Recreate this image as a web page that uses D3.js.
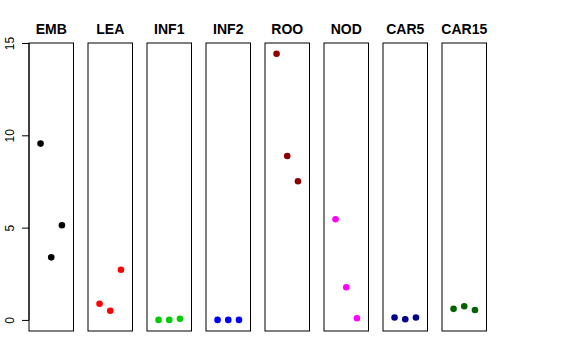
<!DOCTYPE html>
<html>
<head>
<meta charset="utf-8">
<script src="https://cdn.jsdelivr.net/npm/d3@7"></script>
<style>
  body { margin: 0; background: #fff; }
  text { font-family: "Liberation Sans", Arial, sans-serif; }
</style>
</head>
<body>
<div id="chart"></div>
<script>
// tissues, one panel each
var tissues = ["EMB", "LEA", "INF1", "INF2", "ROO", "NOD", "CAR5", "CAR15"];
var colors = ["#000000", "#FF0000", "#00CD00", "#0000FF", "#8B0000", "#FF00FF", "#00008B", "#006400"];
// three replicates per tissue
var rep1 = [9.55, 0.88, 0.00, 0.00, 14.42, 5.45, 0.13, 0.60];
var rep2 = [3.39, 0.50, 0.00, 0.00, 8.88, 1.77, 0.04, 0.74];
var rep3 = [5.13, 2.72, 0.06, 0.00, 7.51, 0.09, 0.13, 0.54];
var yTicks = [0, 5, 10, 15];

var width = 576, height = 360;
var panelLeft = 29, panelW = 44.5, panelStep = 59,
    panelTop = 43, panelBottom = 331;

var svg = d3.select("#chart")
  .append("svg")
    .attr("width", width)
    .attr("height", height);

// y scale shared by all panels
var y = d3.scaleLinear()
  .domain([-0.6, 15])
  .range([panelBottom, panelTop]);

// y axis on the first panel only
var yAxis = svg.append("g")
  .attr("transform", "translate(" + panelLeft + ",0)")
  .call(d3.axisLeft(y).tickValues(yTicks).tickSize(7));
yAxis.select(".domain").remove();
yAxis.append("line")
  .attr("x1", 0).attr("x2", 0)
  .attr("y1", y(0)).attr("y2", y(15))
  .attr("stroke", "#000");
yAxis.selectAll(".tick line").attr("stroke", "#000");
yAxis.selectAll(".tick text")
  .attr("font-size", 12)
  .attr("fill", "#000")
  .attr("x", 0)
  .attr("y", 0)
  .attr("dy", null)
  .attr("transform", "translate(-15.5,0) rotate(-90)")
  .attr("text-anchor", "middle");

tissues.forEach(function(t, i) {
  var x0 = panelLeft + i * panelStep;
  var x = d3.scaleLinear()
    .domain([-0.08, 4.08])
    .range([x0, x0 + panelW]);

  var g = svg.append("g");

  g.append("rect")
    .attr("x", x0)
    .attr("y", panelTop)
    .attr("width", panelW)
    .attr("height", panelBottom - panelTop)
    .attr("fill", "none")
    .attr("stroke", "#000")
    .attr("stroke-width", 1);

  g.append("text")
    .attr("x", x0 + panelW / 2)
    .attr("y", 34)
    .attr("text-anchor", "middle")
    .attr("font-size", 14)
    .attr("font-weight", "bold")
    .text(t);

  var pts = [rep1[i], rep2[i], rep3[i]];
  g.selectAll("circle")
    .data(pts)
    .enter()
    .append("circle")
      .attr("cx", function(d, j) { return x(j + 1); })
      .attr("cy", function(d) { return y(d); })
      .attr("r", 3.3)
      .style("fill", colors[i]);
});
</script>
</body>
</html>
